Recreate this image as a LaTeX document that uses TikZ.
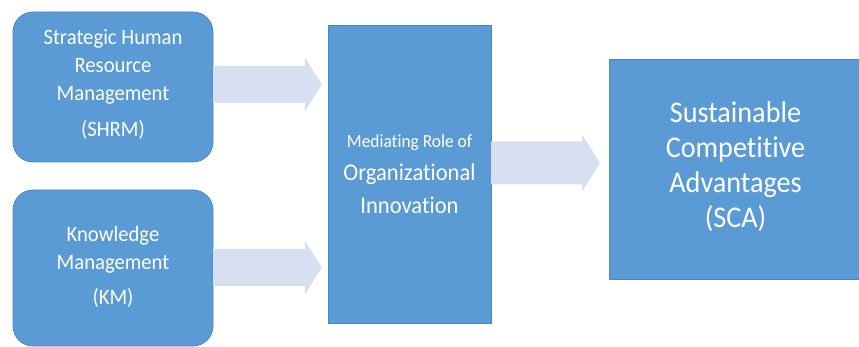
\documentclass[tikz,border=0pt]{standalone}
\usepackage{fontspec}
\setmainfont{Carlito}[Ligatures=NoCommon, FakeStretch=0.94]
\usetikzlibrary{calc}
\definecolor{boxblue}{HTML}{5B9BD5}
\definecolor{boxedge}{HTML}{4A87C6}
\definecolor{arrowfill}{HTML}{D6E0F0}
\tikzset{
  bluebox/.style={draw=boxedge, line width=0.8pt, fill=boxblue, inner sep=0pt, outer sep=0pt},
  roundbox/.style={bluebox, rounded corners=20pt},
  txt/.style={text=white, align=center, inner sep=0pt},
  blockfill/.style={fill=arrowfill, draw=none}
}
\newcommand{\blockarr}[5]{%
  \fill[blockfill] ($(#1)+(0,#3)$) -- ($(#2)+(-#5,#3)$) -- ($(#2)+(-#5,#4)$) -- (#2)
    -- ($(#2)+(-#5,-#4)$) -- ($(#2)+(-#5,-#3)$) -- ($(#1)+(0,-#3)$) -- cycle;}
\begin{document}
\begin{tikzpicture}[x=1pt, y=-1pt]
\useasboundingbox (0,0) rectangle (859,347);
% boxes
\node[roundbox, minimum width=200pt, minimum height=150pt] (shrm) at (113,87) {};
\node[roundbox, minimum width=200pt, minimum height=156pt] (km) at (113,268) {};
\node[bluebox, minimum width=163pt, minimum height=298pt] (mid) at (409.5,174) {};
\node[bluebox, minimum width=253pt, minimum height=220pt] (sca) at (735.5,169) {};
% texts
\node[txt, font=\fontsize{22}{28}\selectfont] (shrmt) at ($(shrm.center)+(0,-3)$)
  {Strategic Human\\Resource\\Management\\[8pt](SHRM)};
\node[txt, font=\fontsize{22}{28}\selectfont] (kmt) at ($(km.center)+(0,-1)$)
  {Knowledge\\Management\\[7pt](KM)};
\node[txt, font=\fontsize{24}{33}\selectfont] (midt) at ($(mid.center)+(0,0)$)
  {{\fontsize{18.5}{20}\selectfont Mediating Role of}\\Organizational\\Innovation};
\node[txt, font=\fontsize{30}{35}\selectfont] (scat) at ($(sca.center)+(0,-2)$)
  {Sustainable\\Competitive\\Advantages\\(SCA)};
% block arrows
\coordinate (a1s) at (shrm.east |- 0,84.5);
\coordinate (a1e) at (322,84.5);
\coordinate (a2s) at (km.east |- 0,267.5);
\coordinate (a2e) at (322,267.5);
\coordinate (a3s) at (mid.east |- 0,163);
\coordinate (a3e) at (600,163);
\blockarr{a1s}{a1e}{18.5}{26.5}{17}
\blockarr{a2s}{a2e}{18.5}{26.5}{17}
\blockarr{a3s}{a3e}{21.5}{28.5}{18}
\end{tikzpicture}
\end{document}
